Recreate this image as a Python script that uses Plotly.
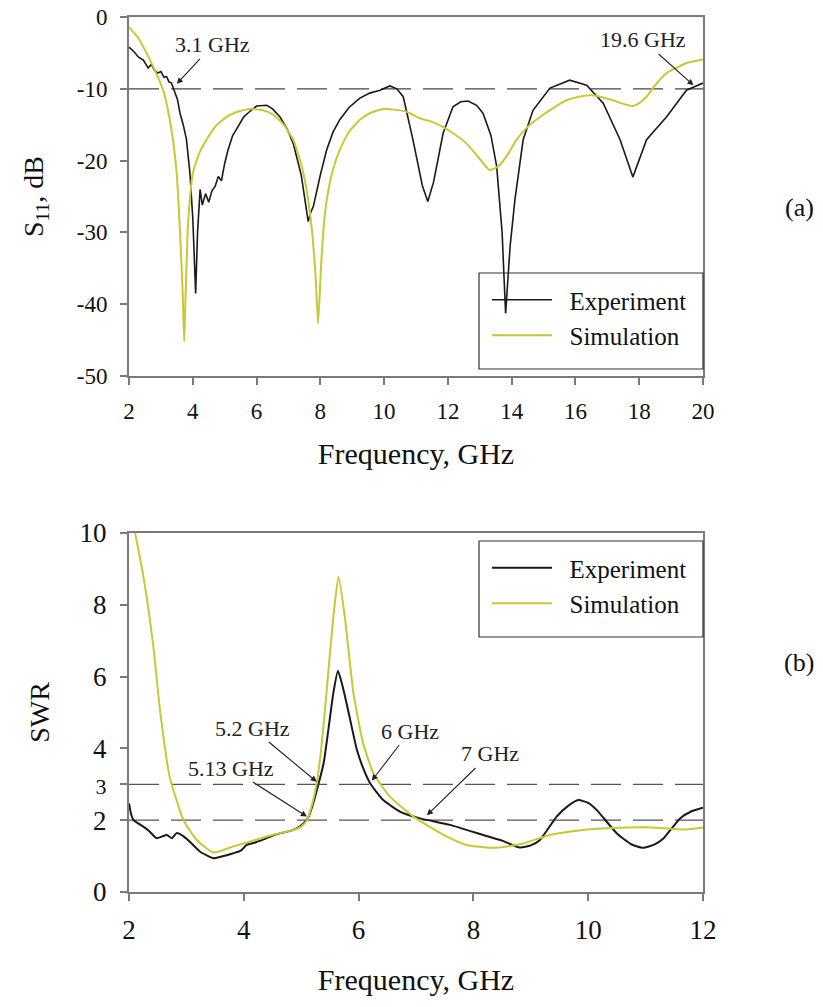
import plotly.graph_objects as go

# ---------------- (a) S11 data ----------------
exp_a_f = [2.0, 2.15, 2.3, 2.45, 2.6, 2.7, 2.8, 2.9, 3.0, 3.1, 3.18, 3.25, 3.33, 3.44, 3.52, 3.6, 3.7, 3.8,
           3.91, 4.0, 4.09, 4.15, 4.23, 4.3, 4.4, 4.5, 4.6, 4.7, 4.8, 4.9, 5.0, 5.1, 5.25, 5.35, 5.48, 5.6,
           5.75, 6.0, 6.32, 6.5, 6.73, 6.95, 7.15, 7.4, 7.62, 7.7, 7.78, 8.0, 8.2, 8.4, 8.61, 8.9, 9.24,
           9.55, 9.87, 10.18, 10.4, 10.6, 10.9, 11.2, 11.37, 11.55, 11.85, 12.16, 12.4, 12.63, 12.9, 13.1,
           13.35, 13.53, 13.7, 13.81, 13.95, 14.1, 14.36, 14.67, 15.2, 15.82, 16.35, 16.87, 17.4, 17.8,
           18.23, 18.86, 19.48, 20.0]
exp_a_s11 = [-4.2, -4.8, -5.6, -6.0, -7.1, -6.6, -7.4, -7.8, -7.6, -8.4, -8.3, -9.0, -9.2, -10.4, -11.5,
             -13.4, -15.0, -17.0, -21.7, -28.0, -38.5, -30.0, -24.0, -26.2, -24.6, -25.8, -24.2, -23.6,
             -22.2, -22.8, -20.4, -18.6, -16.5, -15.8, -14.8, -13.9, -13.3, -12.4, -12.3, -12.8, -13.9,
             -15.5, -17.6, -22.0, -28.5, -27.2, -26.4, -22.0, -18.5, -16.0, -14.3, -12.6, -11.3, -10.6,
             -10.2, -9.6, -10.0, -11.1, -17.0, -23.5, -25.7, -23.0, -16.2, -12.5, -11.8, -11.7, -12.3,
             -13.4, -16.5, -20.8, -30.0, -41.3, -32.0, -25.5, -17.1, -13.0, -9.9, -8.8, -9.5, -12.0,
             -17.1, -22.3, -17.1, -13.9, -10.2, -9.2]

sim_a_f = [2.0, 2.3, 2.66, 2.9, 3.07, 3.2, 3.38, 3.5, 3.6, 3.68, 3.73, 3.78, 3.85, 4.0, 4.2, 4.43, 4.7,
           5.06, 5.4, 5.8, 6.2, 6.52, 6.85, 7.15, 7.4, 7.57, 7.72, 7.85, 7.93, 8.02, 8.1, 8.2, 8.4, 8.61,
           8.9, 9.24, 9.6, 9.97, 10.3, 10.7, 11.12, 11.5, 11.84, 12.2, 12.58, 12.95, 13.3, 13.5, 13.63,
           13.9, 14.15, 14.5, 14.9, 15.3, 15.72, 16.1, 16.55, 17.18, 17.5, 17.8, 18.0, 18.23, 18.5, 18.86,
           19.2, 19.48, 20.0]
sim_a_s11 = [-1.4, -3.0, -6.0, -8.3, -10.2, -12.5, -17.1, -22.0, -30.0, -38.0, -45.2, -38.0, -29.0,
             -21.8, -19.0, -17.1, -15.3, -13.9, -13.2, -12.8, -13.0, -13.6, -15.0, -17.1, -20.5, -24.1,
             -29.0, -36.0, -42.7, -35.0, -29.5, -25.5, -21.2, -18.5, -16.0, -14.3, -13.3, -12.8, -12.9,
             -13.2, -14.1, -14.6, -15.3, -16.3, -17.6, -19.5, -21.3, -21.0, -20.6, -19.0, -17.1, -15.3,
             -13.9, -12.7, -11.6, -11.1, -10.9, -11.6, -12.1, -12.4, -12.0, -11.1, -9.5, -7.8, -7.0,
             -6.4, -5.9]

# ---------------- (b) SWR data ----------------
exp_b_f = [2.0, 2.04, 2.08, 2.25, 2.35, 2.48, 2.58, 2.66, 2.75, 2.83, 2.95, 3.06, 3.24, 3.47, 3.6, 3.82,
           3.95, 4.05, 4.2, 4.4, 4.55, 4.75, 4.9, 5.04, 5.13, 5.21, 5.3, 5.39, 5.48, 5.56, 5.64, 5.71,
           5.79, 5.88, 5.97, 6.08, 6.2, 6.43, 6.72, 7.07, 7.59, 8.17, 8.5, 8.81, 9.0, 9.16, 9.45, 9.65,
           9.83, 10.0, 10.15, 10.5, 10.75, 10.96, 11.15, 11.31, 11.6, 11.8, 12.0]
exp_b_swr = [2.47, 2.15, 2.0, 1.82, 1.7, 1.5, 1.55, 1.59, 1.5, 1.64, 1.55, 1.4, 1.12, 0.94, 0.98, 1.08,
             1.15, 1.31, 1.38, 1.5, 1.6, 1.68, 1.75, 1.91, 2.1, 2.47, 3.0, 3.58, 4.6, 5.54, 6.16, 5.8,
             5.26, 4.6, 3.96, 3.45, 3.03, 2.56, 2.24, 2.05, 1.87, 1.59, 1.43, 1.24, 1.3, 1.45, 2.1, 2.4,
             2.56, 2.48, 2.28, 1.63, 1.33, 1.23, 1.32, 1.49, 2.05, 2.25, 2.35]

sim_b_f = [2.07, 2.25, 2.42, 2.54, 2.71, 2.95, 3.18, 3.47, 3.82, 4.1, 4.5, 4.87, 5.0, 5.1, 5.2, 5.27,
           5.35, 5.44, 5.56, 5.65, 5.76, 5.91, 6.08, 6.26, 6.55, 7.0, 7.48, 7.88, 8.41, 8.87, 9.33, 9.91,
           10.5, 11.08, 11.66, 12.0]
sim_b_swr = [10.3, 8.8, 6.9, 5.07, 3.2, 2.0, 1.45, 1.1, 1.27, 1.4, 1.59, 1.73, 1.82, 2.0, 2.5, 3.03,
             4.0, 5.54, 7.67, 8.78, 7.67, 5.54, 4.14, 3.3, 2.65, 2.05, 1.59, 1.31, 1.23, 1.35, 1.59, 1.73,
             1.79, 1.8, 1.74, 1.8]

s11_ref = [-10]
swr_ref = [2, 3]

top_xticks = [2, 4, 6, 8, 10, 12, 14, 16, 18, 20]
top_yticks = [0, -10, -20, -30, -40, -50]
top_ytext = ["0", "-10", "-20", "-30", "-40", "-50"]
bot_xticks = [2, 4, 6, 8, 10, 12]
bot_yticks = [0, 2, 3, 4, 6, 8, 10]
bot_ytext = ["0", "2", "<span style='font-size:22px'>3</span>", "4", "6", "8", "10"]

# annotation labels: (text, arrow tip x, arrow tip y, text centre px x, text centre px y)
ann_a = [("3.1 GHz", 3.5, -9.3, 213, 45), ("19.6 GHz", 19.7, -9.5, 643, 40)]
ann_b = [("5.2 GHz", 5.27, 3.07, 252, 728), ("5.13 GHz", 5.1, 2.1, 231, 768),
         ("6 GHz", 6.23, 3.1, 410, 731), ("7 GHz", 7.19, 2.14, 490, 754)]

# ---------------- figure ----------------
OFF = 8  # page body margin
W, H = 823 - 2 * OFF, 1007 - 2 * OFF
FONT = "Liberation Serif"
BLACK = "#1a1a1a"
YELLOW = "#c8c834"
AX = "#7a7a7a"

def px_x(p):
    return (p - OFF) / W

def px_y(p):
    return 1 - (p - OFF) / H

x_dom = [px_x(129), px_x(703)]
top_dom = [px_y(376), px_y(17)]
bot_dom = [px_y(892), px_y(533)]

fig = go.Figure()
fig.add_trace(go.Scatter(x=exp_a_f, y=exp_a_s11, mode="lines", name="\u00a0\u00a0Experiment",
                         line=dict(color=BLACK, width=1.6), xaxis="x", yaxis="y", legend="legend"))
fig.add_trace(go.Scatter(x=sim_a_f, y=sim_a_s11, mode="lines", name="\u00a0\u00a0Simulation",
                         line=dict(color=YELLOW, width=2, shape="spline", smoothing=0.5),
                         xaxis="x", yaxis="y", legend="legend"))
fig.add_trace(go.Scatter(x=exp_b_f, y=exp_b_swr, mode="lines", name="\u00a0\u00a0Experiment",
                         line=dict(color=BLACK, width=2, shape="spline", smoothing=0.5),
                         xaxis="x2", yaxis="y2", legend="legend2"))
fig.add_trace(go.Scatter(x=sim_b_f, y=sim_b_swr, mode="lines", name="\u00a0\u00a0Simulation",
                         line=dict(color=YELLOW, width=2, shape="spline", smoothing=0.5),
                         xaxis="x2", yaxis="y2", legend="legend2"))

for v in s11_ref:
    fig.add_shape(type="line", xref="x", yref="y", x0=2, x1=20, y0=v, y1=v,
                  line=dict(color="#444444", width=1.3, dash="30px,12px"), layer="below")
for v in swr_ref:
    fig.add_shape(type="line", xref="x2", yref="y2", x0=2, x1=12, y0=v, y1=v,
                  line=dict(color="#555555", width=1.3, dash="30px,12px"), layer="below")

def place(items, xrng, yrng, ypix):
    out = []
    for text, tx, ty, cx, cy in items:
        px = 129 + (tx - xrng[0]) / (xrng[1] - xrng[0]) * (703 - 129)
        py = ypix[0] + (yrng[1] - ty) / (yrng[1] - yrng[0]) * (ypix[1] - ypix[0])
        out.append((text, tx, ty, cx - px, cy - py))
    return out

for (xr, yr, items, xrng, yrng, ypix) in [("x", "y", ann_a, (2, 20), (-50, 0), (17, 376)),
                                          ("x2", "y2", ann_b, (2, 12), (0, 10), (533, 892))]:
    for text, tx, ty, dx, dy in place(items, xrng, yrng, ypix):
        fig.add_annotation(x=tx, y=ty, xref=xr, yref=yr, text=text, showarrow=True,
                           arrowhead=2, arrowsize=1.1, arrowwidth=1.1, arrowcolor="#222222",
                           ax=dx, ay=dy, standoff=0,
                           font=dict(family=FONT, size=22, color="#222222"))

for lab, ypos in (("(a)", 208), ("(b)", 662)):
    fig.add_annotation(x=px_x(799), y=px_y(ypos), xref="paper", yref="paper", text=lab,
                       xanchor="center", yanchor="middle",
                       showarrow=False, font=dict(family=FONT, size=26, color="#111111"))

# legend frames
for top in (273, 541):
    fig.add_shape(type="rect", xref="paper", yref="paper", x0=px_x(479), x1=px_x(703),
                  y0=px_y(top + 96), y1=px_y(top), line=dict(color="#333333", width=1.2),
                  fillcolor="rgba(0,0,0,0)", layer="above")

axis_common = dict(showline=True, linecolor=AX, linewidth=2, mirror=True, ticks="outside",
                   ticklen=7, tickwidth=1.5, tickcolor=AX, showgrid=False, zeroline=False,
                   automargin=False, ticklabeloverflow="allow")

legend_common = dict(xanchor="left", yanchor="top", borderwidth=0, bgcolor="rgba(255,255,255,0)",
                     font=dict(family=FONT, size=25, color="#111111"), itemwidth=60,
                     tracegroupgap=6)

fig.update_layout(
    width=W, height=H, margin=dict(l=0, r=0, t=0, b=0),
    paper_bgcolor="white", plot_bgcolor="white",
    font=dict(family=FONT, color="#111111"),
    xaxis=dict(domain=x_dom, anchor="y", range=[2, 20], tickvals=top_xticks,
               tickfont=dict(size=23), ticklabelstandoff=6,
               title=dict(text="Frequency, GHz", font=dict(size=30), standoff=20), **axis_common),
    yaxis=dict(domain=top_dom, anchor="x", range=[-50, 0], tickvals=top_yticks, ticktext=top_ytext,
               tickfont=dict(size=23), ticklabelstandoff=8,
               title=dict(text="S<sub>11</sub>, dB", font=dict(size=28), standoff=25), **axis_common),
    xaxis2=dict(domain=x_dom, anchor="y2", range=[2, 12], tickvals=bot_xticks,
                tickfont=dict(size=27), ticklabelstandoff=6,
                title=dict(text="Frequency, GHz", font=dict(size=30), standoff=25), **axis_common),
    yaxis2=dict(domain=bot_dom, anchor="x2", range=[0, 10], tickvals=bot_yticks, ticktext=bot_ytext,
                tickfont=dict(size=27), ticklabelstandoff=8,
                title=dict(text="SWR", font=dict(size=28), standoff=22), **axis_common),
    legend=dict(x=px_x(487), y=px_y(277), **legend_common),
    legend2=dict(x=px_x(487), y=px_y(545), **legend_common),
    showlegend=True,
)

fig.write_html("out.html")
